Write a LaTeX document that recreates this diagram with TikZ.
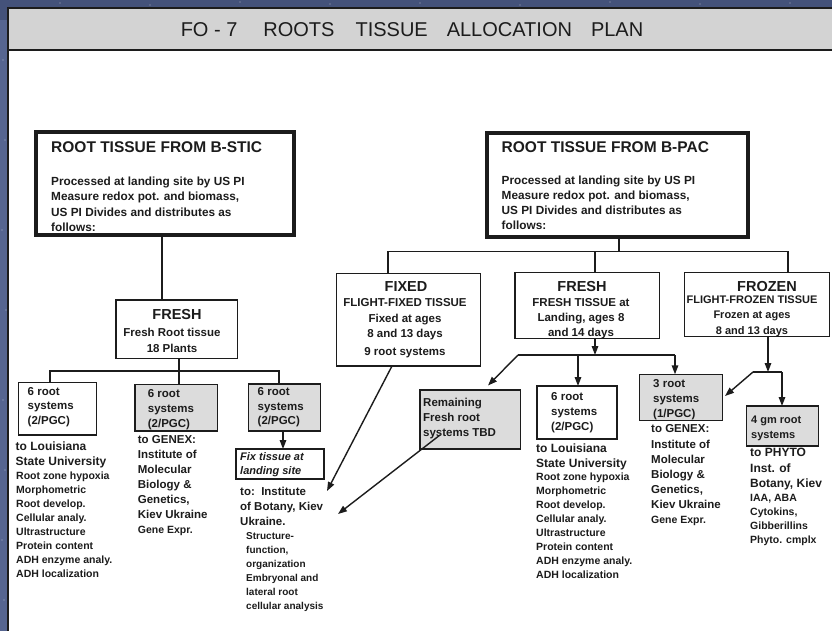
\documentclass[tikz,border=0pt]{standalone}
\usepackage{fontspec}
\setmainfont{Liberation Sans}
\usetikzlibrary{arrows.meta,calc}

\definecolor{ink}{HTML}{1C1C1C}
\definecolor{headgrey}{HTML}{D3D3D3}
\definecolor{boxgrey}{HTML}{DCDCDC}
\definecolor{spacebg}{HTML}{44527A}
\definecolor{spacelight}{HTML}{566590}

\newcommand\fsz[2]{\fontsize{#1pt}{#2pt}\selectfont}

\tikzset{
  plainbox/.style={draw=ink, line width=1.5pt, fill=white, inner sep=0pt, outer sep=0pt, anchor=north west},
  greybox/.style={plainbox, fill=boxgrey},
  heavybox/.style={plainbox, line width=4pt},
  txt/.style={inner sep=0pt, anchor=north west, align=left, text=ink, font=\bfseries\fsz{11.5}{15}},
  txtbig/.style={txt, font=\bfseries\fsz{12}{15}},
  txtsmall/.style={txt, font=\bfseries\fsz{10.5}{14}},
  txttiny/.style={txt, font=\bfseries\fsz{10}{14}},
  boxhead/.style={inner sep=0pt, anchor=center, text=ink, font=\bfseries\fsz{14.5}{16}},
  mainhead/.style={inner sep=0pt, anchor=west, text=ink, font=\bfseries\fsz{15.5}{18}},
  link/.style={draw=ink, line width=1.4pt},
  arr/.style={link, -{Triangle[length=9pt,width=6.5pt]}},
}

\begin{document}
\begin{tikzpicture}[x=1pt,y=-1pt]
\useasboundingbox (0,0) rectangle (832,631);

% starry backdrop behind the sheet
\fill[spacebg] (0,0) rectangle (832,631);
\fill[spacelight] (0,20) rectangle (8,631);
\foreach \sx/\sy in {3/60,5/140,2/230,6/310,3/400,5/470,2/540,4/600,
                     60/3,150/5,240/2,330/4,420/3,520/5,610/2,700/4,790/3}
  \fill[white, opacity=0.5] (\sx,\sy) circle (0.7);

% sheet and header band
\fill[white] (8,8) rectangle (832,631);
\fill[headgrey] (8,8) rectangle (832,50);
\draw[ink, line width=2pt] (832,8) -- (8,8) -- (8,631);
\draw[ink, line width=2.2pt] (8,50) -- (832,50);
\node[inner sep=0pt, text=ink, font=\fsz{20}{24}] (title) at (412,30)
  {FO - 7\hspace{26pt}ROOTS\hspace{21pt}TISSUE\hspace{19pt}ALLOCATION\hspace{19pt}PLAN};

% ---------- boxes ----------
\node[heavybox, minimum width=258, minimum height=103.3] (bstic) at (36,131.7) {};
\node[heavybox, minimum width=261, minimum height=103.4] (bpac) at (487.3,133.3) {};
\node[plainbox, minimum width=121.7, minimum height=58.3] (fresh1) at (116,300) {};
\node[plainbox, minimum width=144, minimum height=92.7] (fixed) at (336.7,273.3) {};
\node[plainbox, minimum width=144.3, minimum height=65.6] (fresh2) at (515,272.7) {};
\node[plainbox, minimum width=145, minimum height=64] (frozen) at (684.3,272.7) {};
\node[plainbox, minimum width=78.4, minimum height=52.3] (a1) at (18.3,382.7) {};
\node[greybox, minimum width=82.3, minimum height=46.7] (a2) at (135,384.3) {};
\node[greybox, minimum width=72.1, minimum height=47] (a3) at (248.3,384) {};
\node[plainbox, minimum width=88, minimum height=30] (fixsite) at (236,449) {};
\node[greybox, minimum width=100.7, minimum height=59] (remain) at (420,390) {};
\node[plainbox, minimum width=80, minimum height=53] (b6) at (537,386) {};
\node[greybox, minimum width=83.4, minimum height=46.4] (b3) at (639.3,374.3) {};
\node[greybox, minimum width=72, minimum height=40] (b4) at (746.7,406) {};

% ---------- texts ----------
\node[mainhead] (bsticT) at (51,147.5) {ROOT TISSUE FROM B-STIC};
\node[txt, font=\bfseries\fsz{11.8}{15.2}] (bsticB) at (51,177)
  {Processed at landing site by US PI\\Measure redox pot. and biomass,\\US PI Divides and distributes as\\follows:};
\node[mainhead] (bpacT) at (501.5,147.3) {ROOT TISSUE FROM B-PAC};
\node[txt, font=\bfseries\fsz{11.8}{15.1}] (bpacB) at (501.5,175.5)
  {Processed at landing site by US PI\\Measure redox pot. and biomass,\\US PI Divides and distributes as\\follows:};

\node[boxhead] (fresh1T) at (177,315) {FRESH};
\node[txt, anchor=north, align=center, font=\bfseries\fsz{11.5}{15.7}] (fresh1B) at (172,328)
  {Fresh Root tissue\\18 Plants};

\node[boxhead] (fixedT) at (406,286.7) {FIXED};
\node[txt, anchor=north, align=center, font=\bfseries\fsz{11.5}{15.3}] (fixedB) at (405,298.7)
  {FLIGHT-FIXED TISSUE\\Fixed at ages\\8 and 13 days\\[2.5pt]9 root systems};

\node[boxhead] (fresh2T) at (582,287) {FRESH};
\node[txt, anchor=north, align=center, font=\bfseries\fsz{11.5}{15}] (fresh2B) at (581,298.5)
  {FRESH TISSUE at\\Landing, ages 8\\and 14 days};

\node[boxhead] (frozenT) at (767,287) {FROZEN};
\node[txt, anchor=north, align=center, font=\bfseries\fsz{11}{15.5}] (frozenB) at (752,295.5)
  {FLIGHT-FROZEN TISSUE\\Frozen at ages\\8 and 13 days};

% left branch
\node[txt, font=\bfseries\fsz{11.5}{14.5}] (a1T) at (27.5,387) {6 root\\systems\\(2/PGC)};
\node[txtbig] (a1B) at (15.5,441.2) {to Louisiana\\State University};
\node[txtsmall, font=\bfseries\fsz{10.5}{13.9}] (a1C) at (16,472)
  {Root zone hypoxia\\Morphometric\\Root develop.\\Cellular analy.\\Ultrastructure\\Protein content\\ADH enzyme analy.\\ADH localization};

\node[txt, font=\bfseries\fsz{11.5}{15}] (a2T) at (147.7,389.4) {6 root\\systems\\(2/PGC)};
\node[txt] (a2B) at (137.7,435.4) {to GENEX:\\Institute of\\Molecular\\Biology \&\\Genetics,\\Kiev Ukraine};
\node[txtsmall] (a2C) at (137.7,526) {Gene Expr.};

\node[txt, font=\bfseries\fsz{11.5}{14.5}] (a3T) at (257.5,387.4) {6 root\\systems\\(2/PGC)};
\node[txt, font=\bfseries\itshape\fsz{11}{14}] (fixsiteT) at (240,452.6) {Fix tissue at\\landing site};
\node[txt] (instB) at (240,487.4) {to:\ \ Institute\\of Botany, Kiev\\Ukraine.};
\node[txttiny] (instC) at (246,532.2)
  {Structure-\\function,\\organization\\Embryonal and\\lateral root\\cellular analysis};

% right branch
\node[txt, font=\bfseries\fsz{11.5}{14.7}] (remainT) at (423,398.4) {Remaining\\Fresh root\\systems TBD};

\node[txt] (b6T) at (551,392.4) {6 root\\systems\\(2/PGC)};
\node[txtbig] (b6B) at (536,443.2) {to Louisiana\\State University};
\node[txtsmall] (b6C) at (536,473)
  {Root zone hypoxia\\Morphometric\\Root develop.\\Cellular analy.\\Ultrastructure\\Protein content\\ADH enzyme analy.\\ADH localization};

\node[txt] (b3T) at (653,379.4) {3 root\\systems\\(1/PGC)};
\node[txt, font=\bfseries\fsz{11.5}{15.2}] (b3B) at (651,424.7) {to GENEX:\\Institute of\\Molecular\\Biology \&\\Genetics,\\Kiev Ukraine};
\node[txtsmall] (b3C) at (651,516) {Gene Expr.};

\node[txt, font=\bfseries\fsz{11}{15}] (b4T) at (751,415.4) {4 gm root\\systems};
\node[txtbig, font=\bfseries\fsz{12}{15.5}] (b4B) at (750,448.2) {to PHYTO\\Inst. of\\Botany, Kiev};
\node[txtsmall] (b4C) at (750,494.3) {IAA, ABA\\Cytokins,\\Gibberillins\\Phyto. cmplx};

% ---------- connectors ----------
% B-STIC tree
\coordinate (xL) at (162,0);
\coordinate (busL) at (0,371);
\coordinate (xa1) at (50,0);
\coordinate (xf1) at (179,0);
\coordinate (xa3) at (279,0);
\coordinate (xa3b) at (283,0);
\draw[link] (xL |- bstic.south) -- (xL |- fresh1.north);
\draw[link] (xf1 |- fresh1.south) -- (xf1 |- a2.north);
\draw[link] (xa1 |- a1.north) -- (xa1 |- busL) -- (xa3 |- busL) -- (xa3 |- a3.north);
\draw[arr] (xa3b |- a3.south) -- (xa3b |- fixsite.north);

% B-PAC tree
\coordinate (xR) at (619,0);
\coordinate (busR) at (0,251.7);
\coordinate (xfx) at (388,0);
\coordinate (xfr) at (595,0);
\coordinate (xfz) at (788,0);
\draw[link] (xR |- bpac.south) -- (xR |- busR);
\draw[link] (xfx |- fixed.north) -- (xfx |- busR) -- (xfz |- busR) -- (xfz |- frozen.north);
\draw[link] (xfr |- busR) -- (xfr |- fresh2.north);

% fixed tissue to Botany
\coordinate (xfa) at (392,0);
\coordinate (instTip) at (327,491);
\draw[arr] (xfa |- fixed.south) -- (instTip);

% fresh tissue split
\coordinate (busF) at (0,355);
\coordinate (jF) at (518,355);
\coordinate (remTip) at (488,385.5);
\coordinate (xb6) at (578,0);
\coordinate (xb3) at (675,0);
\draw[arr] (xfr |- fresh2.south) -- (xfr |- busF);
\draw[link] (jF) -- (xb3 |- busF);
\draw[arr] (jF) -- (remTip);
\draw[arr] (xb6 |- busF) -- (xb6 |- b6.north);
\draw[arr] (xb3 |- busF) -- (xb3 |- b3.north);

% remaining fresh roots to Botany
\coordinate (remStart) at (440,435);
\coordinate (instTip2) at (338,514);
\draw[arr] (remStart) -- (instTip2);

% frozen tissue split
\coordinate (xz) at (768,0);
\coordinate (busZ) at (0,372);
\coordinate (jZ) at (753,372);
\coordinate (xb4) at (782,0);
\coordinate (b3Tip) at (725,396);
\draw[arr] (xz |- frozen.south) -- (xz |- busZ);
\draw[link] (jZ) -- (xb4 |- busZ);
\draw[arr] (xb4 |- busZ) -- (xb4 |- b4.north);
\draw[arr] (jZ) -- (b3Tip);
\end{tikzpicture}
\end{document}
